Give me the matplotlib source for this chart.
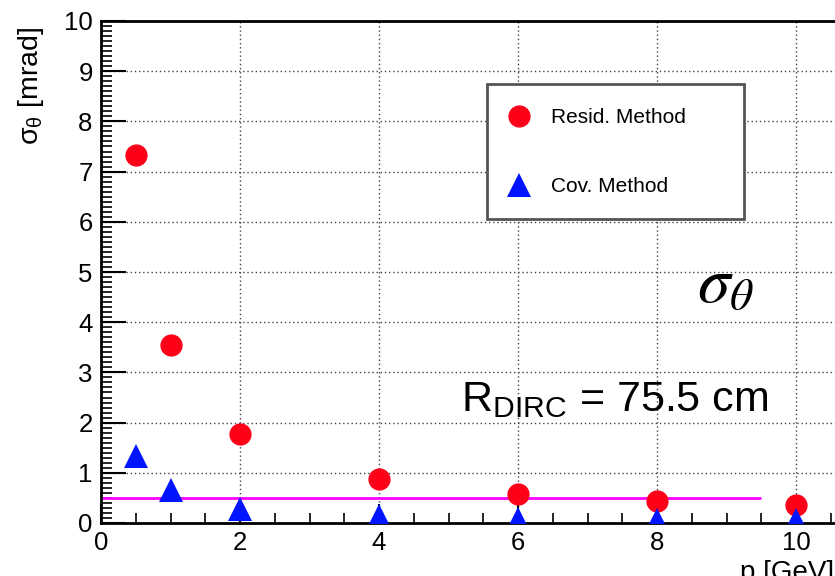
import matplotlib
matplotlib.use("Agg")
import matplotlib.pyplot as plt
from matplotlib.patches import Rectangle
from matplotlib.ticker import MultipleLocator

# momentum points [GeV/c]
p_vals = [0.5, 1, 2, 4, 6, 8, 10]
# angular resolution [mrad]
resid_sigma = [7.33, 3.55, 1.77, 0.87, 0.58, 0.44, 0.36]
cov_sigma = [1.33, 0.66, 0.28, 0.14, 0.08, 0.06, 0.05]
ref_level = 0.5
ref_range = (0.0, 9.5)
series_labels = ["Resid. Method", "Cov. Method"]

plt.rcParams["font.family"] = ["Liberation Sans", "DejaVu Sans"]
plt.rcParams["mathtext.fontset"] = "custom"
plt.rcParams["mathtext.rm"] = "Liberation Sans"
plt.rcParams["mathtext.it"] = "Liberation Sans:italic"

W, H = 835, 576
fig = plt.figure(figsize=(W / 100, H / 100), dpi=100)

# axes run past the right edge (the reference is cropped there)
x0, y0, ytop = 101, 523, 21
px_per_x = 69.5
ax_w = 11 * px_per_x
ax = fig.add_axes([x0 / W, (H - y0) / H, ax_w / W, (y0 - ytop) / H])
ax.set_xlim(0, 11)
ax.set_ylim(0, 10)

ax.xaxis.set_major_locator(MultipleLocator(2))
ax.xaxis.set_minor_locator(MultipleLocator(0.5))
ax.yaxis.set_major_locator(MultipleLocator(1))
ax.yaxis.set_minor_locator(MultipleLocator(0.1))
ax.tick_params(which="both", direction="in", top=False, right=False,
               labelsize=18.5, pad=6)
ax.tick_params(axis="y", which="major", length=18, width=1.5)
ax.tick_params(axis="y", which="minor", length=8, width=1.2)
ax.tick_params(axis="x", which="major", length=14, width=1.5)
ax.tick_params(axis="x", which="minor", length=7, width=1.2)
for s in ax.spines.values():
    s.set_linewidth(2)
ax.grid(True, which="major", linestyle=(0, (1, 2)), color="#444444", linewidth=1)
ax.set_axisbelow(True)

ax.hlines(ref_level, ref_range[0], ref_range[1], color="#ff00ff", linewidth=2, zorder=2)

ax.plot(p_vals, resid_sigma, "o", color="#ff0019", markersize=16,
        markeredgewidth=0, label=series_labels[0], zorder=3)
ax.plot(p_vals, cov_sigma, "^", color="#0014ff", markersize=17,
        markeredgewidth=0, label=series_labels[1], zorder=4)

# rotated label: its anchor is the right-hand edge on screen
ax.set_ylabel(r"σ$_{\mathrm{θ}}$ [mrad]", fontsize=20.5)
ax.yaxis.set_label_coords((46 - x0) / ax_w, (y0 - 86) / (y0 - ytop))
fig.text(740 / W, 1 - 560 / H, "p [GeV]", fontsize=20, va="top", ha="left")

# legend frame drawn by hand to match the reference box
ax.add_patch(Rectangle((487 / W, 1 - 219 / H), (744 - 487) / W, (219 - 84) / H,
                       transform=fig.transFigure, facecolor="white",
                       edgecolor="#555555", linewidth=2, zorder=5, clip_on=False))
leg = ax.legend(loc="center left", bbox_to_anchor=(498 / W, 1 - 152 / H),
                bbox_transform=fig.transFigure, frameon=False, fontsize=15,
                borderpad=0, handlelength=1.0, handletextpad=1.05,
                labelspacing=2.4, numpoints=1)
leg.set_zorder(6)

fig.text(697 / W, 1 - 302 / H, r"$\sigma_{\theta}$", fontsize=47,
         math_fontfamily="stix", va="baseline", ha="left")
fig.text(461 / W, 1 - 411 / H, r"R$_{\mathrm{DIRC}}$ = 75.5 cm", fontsize=31,
         va="baseline", ha="left")

fig.savefig("out.png", dpi=100)
